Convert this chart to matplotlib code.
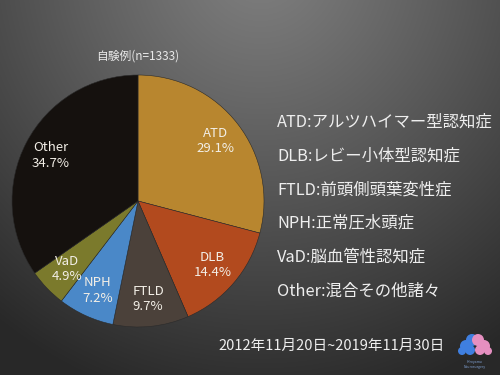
import numpy as np
import matplotlib
matplotlib.use("Agg")
import matplotlib.pyplot as plt
from matplotlib.patches import Ellipse

plt.rcParams['font.family'] = ['Noto Sans CJK JP', 'DejaVu Sans']

labels = ['ATD', 'DLB', 'FTLD', 'NPH', 'VaD', 'Other']
shares = [29.1, 14.4, 9.7, 7.2, 4.9, 34.7]
colors = ['#B8862F', '#B24A1E', '#4B413A', '#4A88C8', '#7B7A2C', '#15110E']
legend_lines = ['ATD:アルツハイマー型認知症', 'DLB:レビー小体型認知症', 'FTLD:前頭側頭葉変性症',
                'NPH:正常圧水頭症', 'VaD:脳血管性認知症', 'Other:混合その他諸々']
title = '自験例(n=1333)'
period = '2012年11月20日~2019年11月30日'

W, H = 500, 375
fig = plt.figure(figsize=(5, 3.75), dpi=100)

# background: radial gradient, lighter at top centre
bg = fig.add_axes([0, 0, 1, 1])
yy, xx = np.mgrid[0:H, 0:W]
d = np.sqrt(((xx - 260) / 1.0) ** 2 + ((yy + 40) / 1.05) ** 2)
t = np.clip(d / 430, 0, 1)
g = 0.50 - (0.50 - 0.16) * t ** 1.1
bg.imshow(np.dstack([g, g, g]), extent=[0, W, H, 0], aspect='auto')
bg.set_xlim(0, W)
bg.set_ylim(H, 0)
bg.axis('off')

# pie
cx, cy, r = 138, 201, 126
ax = fig.add_axes([(cx - r) / W, 1 - (cy + r) / H, 2 * r / W, 2 * r / H])
wedges, _ = ax.pie(shares, colors=colors, startangle=90, counterclock=False,
                   wedgeprops=dict(edgecolor='#2a2a2a', linewidth=0.4))
for w, lab, s in zip(wedges, labels, shares):
    ang = np.deg2rad((w.theta1 + w.theta2) / 2)
    ax.text(0.78 * np.cos(ang), 0.78 * np.sin(ang), f'{lab}\n{s}%',
            ha='center', va='center', color='#f2eee6', fontsize=9.5,
            linespacing=1.25)
ax.set_xlim(-1, 1)
ax.set_ylim(-1, 1)
ax.axis('off')

bg.text(138, 56, title, ha='center', va='center', color='#e8e8e8', fontsize=8.5)

for i, line in enumerate(legend_lines):
    bg.text(277, 122 + i * 33.8, line, ha='left', va='center', color='#eeeeee',
            fontsize=11.8)

bg.text(332, 346, period, ha='center', va='center', color='#eeeeee', fontsize=10.5)

# small logo
for (x, y, rr) in [(466, 346, 6), (472, 340, 6), (470, 350, 5), (462, 351, 4)]:
    bg.add_patch(Ellipse((x, y), 2 * rr, 2 * rr, color='#3f7fe0', lw=0))
for (x, y, rr) in [(484, 346, 6), (478, 340, 6), (480, 350, 5), (488, 351, 4)]:
    bg.add_patch(Ellipse((x, y), 2 * rr, 2 * rr, color='#e58fc0', lw=0))
bg.text(475, 362, 'Hiroyama', ha='center', va='center', color='#7f9fd0', fontsize=2.5)
bg.text(475, 367, 'Neurosurgery', ha='center', va='center', color='#7f9fd0', fontsize=2.5)

fig.savefig('out.png', dpi=100)
